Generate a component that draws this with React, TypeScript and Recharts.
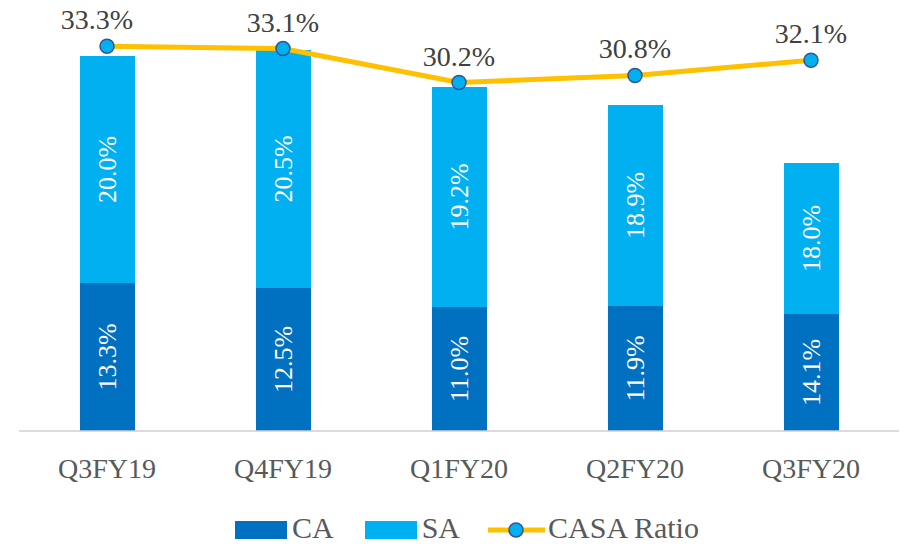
import React from 'react';
import { ComposedChart, Bar, Line, XAxis, YAxis, LabelList } from 'recharts';

const categories = ['Q3FY19', 'Q4FY19', 'Q1FY20', 'Q2FY20', 'Q3FY20'];
const caAmount = [14.8, 14.3, 12.4, 12.5, 11.7];
const saAmount = [22.7, 23.8, 22.0, 20.1, 15.1];
const caLabel = ['13.3%', '12.5%', '11.0%', '11.9%', '14.1%'];
const saLabel = ['20.0%', '20.5%', '19.2%', '18.9%', '18.0%'];
const casaRatio = [33.3, 33.1, 30.2, 30.8, 32.1];

const data = categories.map((c, i) => ({
  name: c,
  ca: caAmount[i],
  sa: saAmount[i],
  caLabel: caLabel[i],
  saLabel: saLabel[i],
  ratio: casaRatio[i],
}));

const FONT = '"Liberation Serif", "Times New Roman", serif';
const CA_COLOR = '#0070C0';
const SA_COLOR = '#00B0F0';
const LINE_COLOR = '#FFC000';
const DOT_STROKE = '#2F5597';

const BarLabel = (props: any) => {
  const { x, y, width, height, value } = props;
  const cx = Number(x) + Number(width) / 2;
  const cy = Number(y) + Number(height) / 2;
  return (
    <text
      x={cx}
      y={cy}
      transform={`rotate(-90, ${cx}, ${cy})`}
      textAnchor="middle"
      dominantBaseline="central"
      fill="#FFFFFF"
      fontFamily={FONT}
      fontSize={26}
    >
      {value}
    </text>
  );
};

const LineLabel = (props: any) => {
  const { x, y, value, index } = props;
  const shift = index === 0 ? -10 : 0;
  return (
    <text
      x={Number(x) + shift}
      y={Number(y) - 17}
      textAnchor="middle"
      fill="#404040"
      fontFamily={FONT}
      fontSize={28}
    >
      {`${Number(value).toFixed(1)}%`}
    </text>
  );
};

const Tick = (props: any) => {
  const { x, y, payload } = props;
  return (
    <text
      x={x}
      y={Number(y) + 47}
      textAnchor="middle"
      fill="#595959"
      fontFamily={FONT}
      fontSize={28}
    >
      {payload.value}
    </text>
  );
};

const LegendRow = () => (
  <div
    style={{
      position: 'absolute',
      left: 235,
      top: 513,
      height: 30,
      display: 'flex',
      alignItems: 'center',
      fontFamily: FONT,
      fontSize: 30,
      lineHeight: '30px',
      color: '#595959',
      whiteSpace: 'nowrap',
    }}
  >
    <span style={{ display: 'inline-block', width: 52, height: 18, background: CA_COLOR, marginRight: 5, marginTop: 4 }} />
    <span style={{ marginRight: 31, lineHeight: '30px' }}>CA</span>
    <span style={{ display: 'inline-block', width: 52, height: 18, background: SA_COLOR, marginRight: 5, marginTop: 4 }} />
    <span style={{ marginRight: 28, lineHeight: '30px' }}>SA</span>
    <svg width={57} height={20} style={{ marginRight: 3, marginTop: 4 }}>
      <line x1={0} y1={10} x2={57} y2={10} stroke={LINE_COLOR} strokeWidth={5} strokeLinecap="round" />
      <circle cx={28} cy={10} r={7} fill={SA_COLOR} stroke={DOT_STROKE} strokeWidth={1.5} />
    </svg>
    <span style={{ lineHeight: '30px' }}>CASA Ratio</span>
  </div>
);

export default function App() {
  return (
    <div style={{ position: 'absolute', left: 0, top: 0, width: 902, height: 544, background: '#fff' }}>
      <ComposedChart
        width={902}
        height={544}
        data={data}
        margin={{ top: 10, right: 3, left: 19, bottom: 0 }}
        barCategoryGap={0}
      >
        <XAxis
          dataKey="name"
          height={113}
          tickLine={false}
          tickSize={0}
          tickMargin={0}
          axisLine={{ stroke: '#D0D0D0', strokeWidth: 1.3 }}
          tick={<Tick />}
          interval={0}
        />
        <YAxis yAxisId="amt" hide domain={[0, 42.1]} />
        <YAxis yAxisId="ratio" hide orientation="right" domain={[0.4, 36.4]} />
        <Bar yAxisId="amt" dataKey="ca" stackId="s" fill={CA_COLOR} barSize={55} isAnimationActive={false}>
          <LabelList dataKey="caLabel" content={<BarLabel />} />
        </Bar>
        <Bar yAxisId="amt" dataKey="sa" stackId="s" fill={SA_COLOR} barSize={55} isAnimationActive={false}>
          <LabelList dataKey="saLabel" content={<BarLabel />} />
        </Bar>
        <Line
          yAxisId="ratio"
          dataKey="ratio"
          type="linear"
          stroke={LINE_COLOR}
          strokeWidth={5}
          dot={{ r: 7, fill: SA_COLOR, stroke: DOT_STROKE, strokeWidth: 1.5 }}
          activeDot={false}
          isAnimationActive={false}
        >
          <LabelList dataKey="ratio" content={<LineLabel />} />
        </Line>
      </ComposedChart>
      <LegendRow />
    </div>
  );
}
